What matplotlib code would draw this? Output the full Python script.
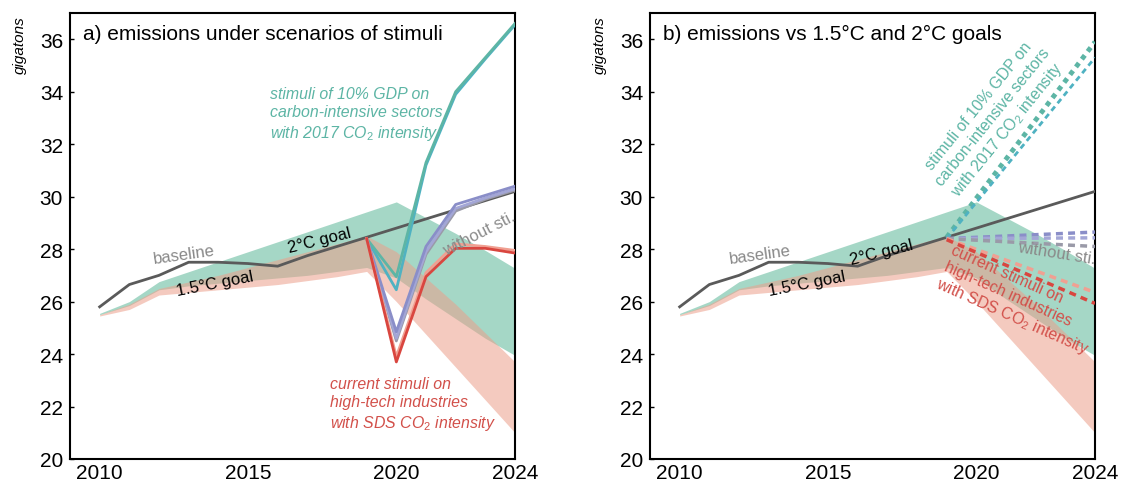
import numpy as np
import matplotlib.pyplot as plt

plt.rcParams['font.family'] = ['Liberation Sans', 'DejaVu Sans']
plt.rcParams['mathtext.fontset'] = 'custom'
plt.rcParams['mathtext.rm'] = 'Liberation Sans'
plt.rcParams['mathtext.it'] = 'Liberation Sans:italic'

# yearly values (gigatons)
years = np.arange(2010, 2025)
baseline = [25.8, 26.65, 27.0, 27.5, 27.5, 27.45, 27.35, 27.75, 28.1, 28.45,
            28.8, 29.15, 29.5, 29.85, 30.2]
goal2_hi = [25.55, 26.0, 26.76, 27.14, 27.52, 27.9, 28.28, 28.66, 29.04, 29.42,
            29.8, 29.2, 28.6, 27.95, 27.27]
goal2_lo = [25.5, 25.85, 26.45, 26.6, 26.7, 26.8, 26.9, 27.0, 27.15, 27.3,
            26.9, 26.1, 25.35, 24.6, 23.95]
goal15_hi = [25.5, 25.9, 26.5, 26.75, 27.0, 27.3, 27.6, 27.9, 28.2, 28.5,
             27.9, 26.9, 25.9, 24.8, 23.7]
goal15_lo = [25.45, 25.7, 26.25, 26.35, 26.45, 26.55, 26.65, 26.8, 26.95, 27.15,
             26.0, 24.75, 23.5, 22.25, 21.0]

# scenarios of stimuli, panel a
scen_years = [2019, 2020, 2021, 2022, 2023, 2024]
teal_a1 = [28.4, 26.95, 31.3, 34.0, 35.3, 36.6]
teal_a2 = [28.4, 26.45, 31.2, 33.9, 35.25, 36.55]
purple_a1 = [28.4, 24.85, 28.1, 29.7, 30.05, 30.4]
purple_a2 = [28.4, 24.6, 27.9, 29.55, 29.95, 30.3]
gray_a = [28.4, 24.5, 27.8, 29.45, 29.9, 30.25]
red_a1 = [28.4, 23.7, 26.95, 28.03, 28.03, 27.85]
red_a2 = [28.4, 23.9, 27.1, 28.2, 28.1, 27.95]

# projections, panel b
proj_years = [2019, 2024]
teal_b = [[28.45, 35.9], [28.4, 35.3]]
purple_b = [[28.4, 28.65], [28.4, 28.43]]
gray_b = [28.4, 28.1]
red_b = [28.36, 25.93]
salmon_b = [28.4, 26.35]

C_GREEN = '#a5d7c6'
C_SALMON = '#ec9f8b'
C_BASE = '#5a5a5a'
C_TEAL1 = '#5db5a5'
C_TEAL2 = '#4fb2c2'
C_PURPLE = '#8a8ec8'
C_GRAY = '#9a9aa8'
C_RED = '#d9463f'
C_RED2 = '#f0a092'

fig = plt.figure(figsize=(11.21, 4.85), dpi=100)
ax_a = fig.add_axes([70 / 1121, 25 / 485, 445 / 1121, 446 / 485])
ax_b = fig.add_axes([650 / 1121, 25 / 485, 445 / 1121, 446 / 485])


def setup(ax, title):
    ax.fill_between(years, goal2_lo, goal2_hi, color=C_GREEN, lw=0, zorder=1)
    ax.fill_between(years, goal15_lo, goal15_hi, color=C_SALMON, alpha=0.55,
                    lw=0, zorder=2)
    ax.set_xlim(2009, 2024)
    ax.set_ylim(20, 37)
    ax.set_xticks([2010, 2015, 2020, 2024])
    ax.set_yticks(np.arange(20, 37, 2))
    ax.tick_params(axis='y', direction='in', length=3, width=1, labelsize=15, pad=5)
    ax.tick_params(axis='x', length=0, labelsize=15, pad=3)
    for s in ax.spines.values():
        s.set_linewidth(1.5)
    ax.text(0.03, 0.955, title, transform=ax.transAxes, fontsize=15,
            ha='left', va='center')


setup(ax_a, 'a) emissions under scenarios of stimuli')
setup(ax_b, 'b) emissions vs 1.5°C and 2°C goals')

# panel a
ax_a.plot(years, baseline, color=C_BASE, lw=2, zorder=3)
ax_a.plot(scen_years, teal_a2, color=C_TEAL2, lw=2, zorder=4)
ax_a.plot(scen_years, teal_a1, color=C_TEAL1, lw=2, zorder=4)
ax_a.plot(scen_years, gray_a, color=C_GRAY, lw=2, zorder=4)
ax_a.plot(scen_years, purple_a2, color='#a3a6d6', lw=2, zorder=4)
ax_a.plot(scen_years, purple_a1, color=C_PURPLE, lw=2, zorder=4)
ax_a.plot(scen_years, red_a2, color=C_RED2, lw=2, zorder=4)
ax_a.plot(scen_years, red_a1, color=C_RED, lw=2, zorder=4)

ax_a.text(2012.85, 27.8, 'baseline', color='#888888', fontsize=12,
          rotation=8, ha='center', va='center', zorder=5)
ax_a.text(2013.9, 26.7, '1.5°C goal', color='black', fontsize=12,
          rotation=11, ha='center', va='center', zorder=5)
ax_a.text(2017.4, 28.35, '2°C goal', color='black', fontsize=12,
          rotation=14, ha='center', va='center', zorder=5)
ax_a.text(2022.8, 28.6, 'without sti.', color='#8a8a8a', fontsize=12,
          rotation=27, ha='center', va='center', zorder=5, clip_on=True)
ax_a.text(2015.75, 33.15,
          'stimuli of 10% GDP on\ncarbon-intensive sectors\nwith 2017 CO$_2$ intensity',
          color=C_TEAL1, fontsize=11.4, style='italic', ha='left', va='center',
          linespacing=1.3, zorder=5)
ax_a.text(2017.75, 22.1,
          'current stimuli on\nhigh-tech industries\nwith SDS CO$_2$ intensity',
          color='#d2504a', fontsize=11.4, style='italic', ha='left', va='center',
          linespacing=1.3, zorder=5)

# panel b
ax_b.plot(years, baseline, color=C_BASE, lw=2, zorder=3)
ax_b.plot(proj_years, teal_b[0], color=C_TEAL1, lw=3.5, ls=(0, (1, 1)), zorder=4)
ax_b.plot(proj_years, teal_b[1], color=C_TEAL2, lw=2, ls=(0, (2, 1.5)), zorder=4)
ax_b.plot(proj_years, purple_b[0], color=C_PURPLE, lw=2.5, ls=(0, (2, 1.5)), zorder=4)
ax_b.plot(proj_years, purple_b[1], color='#a3a6d6', lw=2.5, ls=(0, (2, 1.5)), zorder=4)
ax_b.plot(proj_years, gray_b, color=C_GRAY, lw=2.5, ls=(0, (2, 1.5)), zorder=4)
ax_b.plot(proj_years, salmon_b, color=C_RED2, lw=2.5, ls=(0, (2, 1.5)), zorder=4)
ax_b.plot(proj_years, red_b, color=C_RED, lw=2.5, ls=(0, (2, 1.5)), zorder=4)

ax_b.text(2012.7, 27.8, 'baseline', color='#888888', fontsize=12,
          rotation=8, ha='center', va='center', zorder=5)
ax_b.text(2014.3, 26.7, '1.5°C goal', color='black', fontsize=12,
          rotation=11, ha='center', va='center', zorder=5)
ax_b.text(2016.8, 27.9, '2°C goal', color='black', fontsize=12,
          rotation=14, ha='center', va='center', zorder=5)
ax_b.text(2022.7, 27.85, 'without sti.', color='#8a8a8a', fontsize=12,
          rotation=-9, ha='center', va='center', zorder=5)
ax_b.text(2020.6, 33.0,
          'stimuli of 10% GDP on\ncarbon-intensive sectors\nwith 2017 CO$_2$ intensity',
          color=C_TEAL1, fontsize=11.4, rotation=51, ha='center', va='center',
          multialignment='center', linespacing=1.2, rotation_mode='anchor', zorder=5)
ax_b.text(2021.45, 26.05,
          'current stimuli on\nhigh-tech industries\nwith SDS CO$_2$ intensity',
          color='#d2504a', fontsize=11.4, rotation=-24, ha='center', va='center',
          multialignment='left', linespacing=1.2, rotation_mode='anchor', zorder=5)

fig.text(20 / 1121, 1 - 45 / 485, 'gigatons', rotation=90, style='italic',
         fontsize=11, ha='center', va='center')
fig.text(600 / 1121, 1 - 45 / 485, 'gigatons', rotation=90, style='italic',
         fontsize=11, ha='center', va='center')

fig.savefig('out.png', dpi=100)
